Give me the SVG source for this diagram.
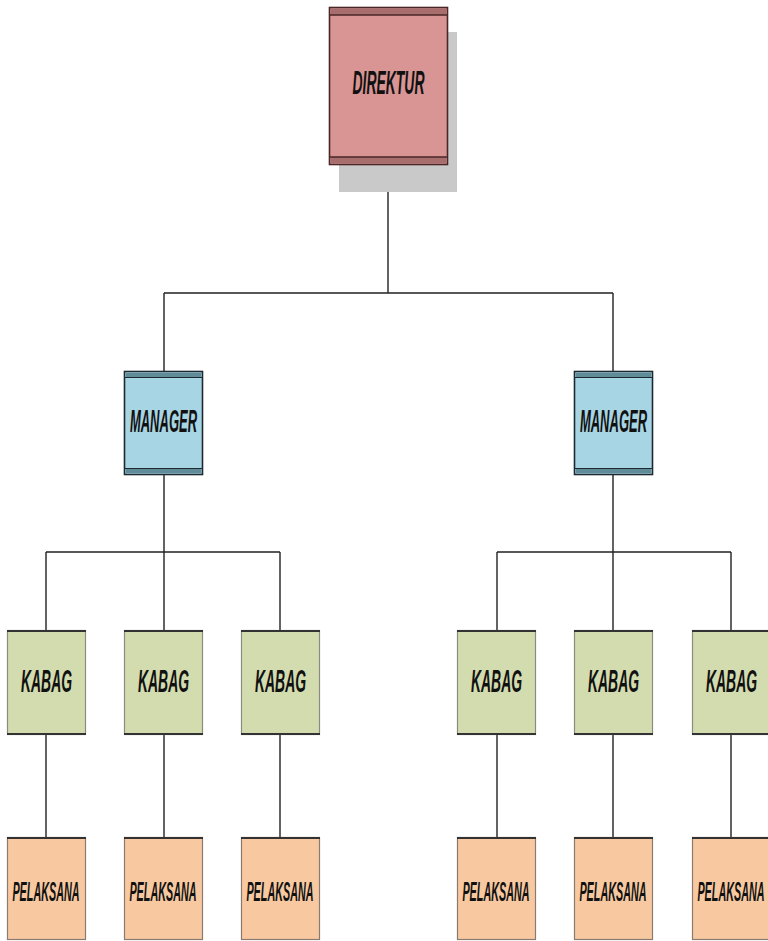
<svg xmlns="http://www.w3.org/2000/svg" width="768" height="941" viewBox="0 0 768 941">
<style>
.t{font-family:"Liberation Sans",Arial,sans-serif;font-weight:bold;font-style:italic;fill:#111;text-anchor:middle}
.d{font-size:34px}
.m{font-size:31px}
.k{font-size:31px}
.p{font-size:27px}
.ln{stroke:#222;stroke-width:1.4;fill:none}
.kb{fill:#d3dcae;stroke:#8a8a80;stroke-width:1.2}
.pk{fill:#f8c9a0;stroke:#8a7a70;stroke-width:1.2}
.edge{stroke:#333;stroke-width:2.2}
</style>
<rect width="768" height="941" fill="#fff"/>
<g id="connectors" class="ln">
<path d="M388 165V293M164 293H613M164 293V371M613 293V371"/>
<path d="M164 475V552M46 552H280M46 552V630M164 552V630M280 552V630"/>
<path d="M613 475V552M497 552H731M497 552V630M613 552V630M731 552V630"/>
<path d="M46 735V837M164 735V837M280 735V837M497 735V837M613 735V837M731 735V837"/>
</g>
<g id="direktur">
<rect x="339" y="32" width="118" height="160" fill="#c9c9c9"/>
<rect x="329.5" y="7.5" width="118" height="157" fill="#d99594" stroke="#4a2626" stroke-width="1.6"/>
<rect x="331" y="9" width="115" height="6" fill="#a86e6d"/>
<line x1="330" y1="15" x2="447" y2="15" stroke="#4a2626" stroke-width="1.4"/>
<rect x="331" y="157" width="115" height="6" fill="#a86e6d"/>
<line x1="330" y1="157" x2="447" y2="157" stroke="#4a2626" stroke-width="1.4"/>
<text class="t d" transform="translate(388.5 94) scale(0.41 1)">DIREKTUR</text>
</g>
<g id="manager1">
<rect x="124.5" y="371.5" width="78" height="103" fill="#a7d5e3" stroke="#1c2a30" stroke-width="1.6"/>
<rect x="126" y="373" width="75" height="4" fill="#5f8c98"/>
<line x1="125" y1="377.5" x2="202" y2="377.5" stroke="#1c2a30" stroke-width="1.2"/>
<rect x="126" y="469" width="75" height="4" fill="#5f8c98"/>
<line x1="125" y1="468.5" x2="202" y2="468.5" stroke="#1c2a30" stroke-width="1.2"/>
<text class="t m" transform="translate(163.5 432) scale(0.42 1)">MANAGER</text>
</g>
<g id="manager2">
<rect x="574.5" y="371.5" width="78" height="103" fill="#a7d5e3" stroke="#1c2a30" stroke-width="1.6"/>
<rect x="576" y="373" width="75" height="4" fill="#5f8c98"/>
<line x1="575" y1="377.5" x2="652" y2="377.5" stroke="#1c2a30" stroke-width="1.2"/>
<rect x="576" y="469" width="75" height="4" fill="#5f8c98"/>
<line x1="575" y1="468.5" x2="652" y2="468.5" stroke="#1c2a30" stroke-width="1.2"/>
<text class="t m" transform="translate(613.5 432) scale(0.42 1)">MANAGER</text>
</g>
<g id="kabag1"><rect class="kb" x="7.5" y="630.5" width="78" height="104"/><path class="edge" d="M7 631H86M7 734H86"/><text class="t k" transform="translate(46.5 692) scale(0.45 1)">KABAG</text></g>
<g id="kabag2"><rect class="kb" x="124.5" y="630.5" width="78" height="104"/><path class="edge" d="M124 631H203M124 734H203"/><text class="t k" transform="translate(163.5 692) scale(0.45 1)">KABAG</text></g>
<g id="kabag3"><rect class="kb" x="241.5" y="630.5" width="78" height="104"/><path class="edge" d="M241 631H320M241 734H320"/><text class="t k" transform="translate(280.5 692) scale(0.45 1)">KABAG</text></g>
<g id="kabag4"><rect class="kb" x="457.5" y="630.5" width="78" height="104"/><path class="edge" d="M457 631H536M457 734H536"/><text class="t k" transform="translate(496.5 692) scale(0.45 1)">KABAG</text></g>
<g id="kabag5"><rect class="kb" x="574.5" y="630.5" width="78" height="104"/><path class="edge" d="M574 631H653M574 734H653"/><text class="t k" transform="translate(613.5 692) scale(0.45 1)">KABAG</text></g>
<g id="kabag6"><rect class="kb" x="692.5" y="630.5" width="78" height="104"/><path class="edge" d="M692 631H771M692 734H771"/><text class="t k" transform="translate(731.5 692) scale(0.45 1)">KABAG</text></g>
<g id="pelaksana1"><rect class="pk" x="7.5" y="837.5" width="78" height="102"/><path class="edge" d="M7 838H86"/><text class="t p" transform="translate(46 901) scale(0.4 1)">PELAKSANA</text></g>
<g id="pelaksana2"><rect class="pk" x="124.5" y="837.5" width="78" height="102"/><path class="edge" d="M124 838H203"/><text class="t p" transform="translate(163 901) scale(0.4 1)">PELAKSANA</text></g>
<g id="pelaksana3"><rect class="pk" x="241.5" y="837.5" width="78" height="102"/><path class="edge" d="M241 838H320"/><text class="t p" transform="translate(280 901) scale(0.4 1)">PELAKSANA</text></g>
<g id="pelaksana4"><rect class="pk" x="457.5" y="837.5" width="78" height="102"/><path class="edge" d="M457 838H536"/><text class="t p" transform="translate(496 901) scale(0.4 1)">PELAKSANA</text></g>
<g id="pelaksana5"><rect class="pk" x="574.5" y="837.5" width="78" height="102"/><path class="edge" d="M574 838H653"/><text class="t p" transform="translate(613 901) scale(0.4 1)">PELAKSANA</text></g>
<g id="pelaksana6"><rect class="pk" x="692.5" y="837.5" width="78" height="102"/><path class="edge" d="M692 838H771"/><text class="t p" transform="translate(731 901) scale(0.4 1)">PELAKSANA</text></g>
</svg>
